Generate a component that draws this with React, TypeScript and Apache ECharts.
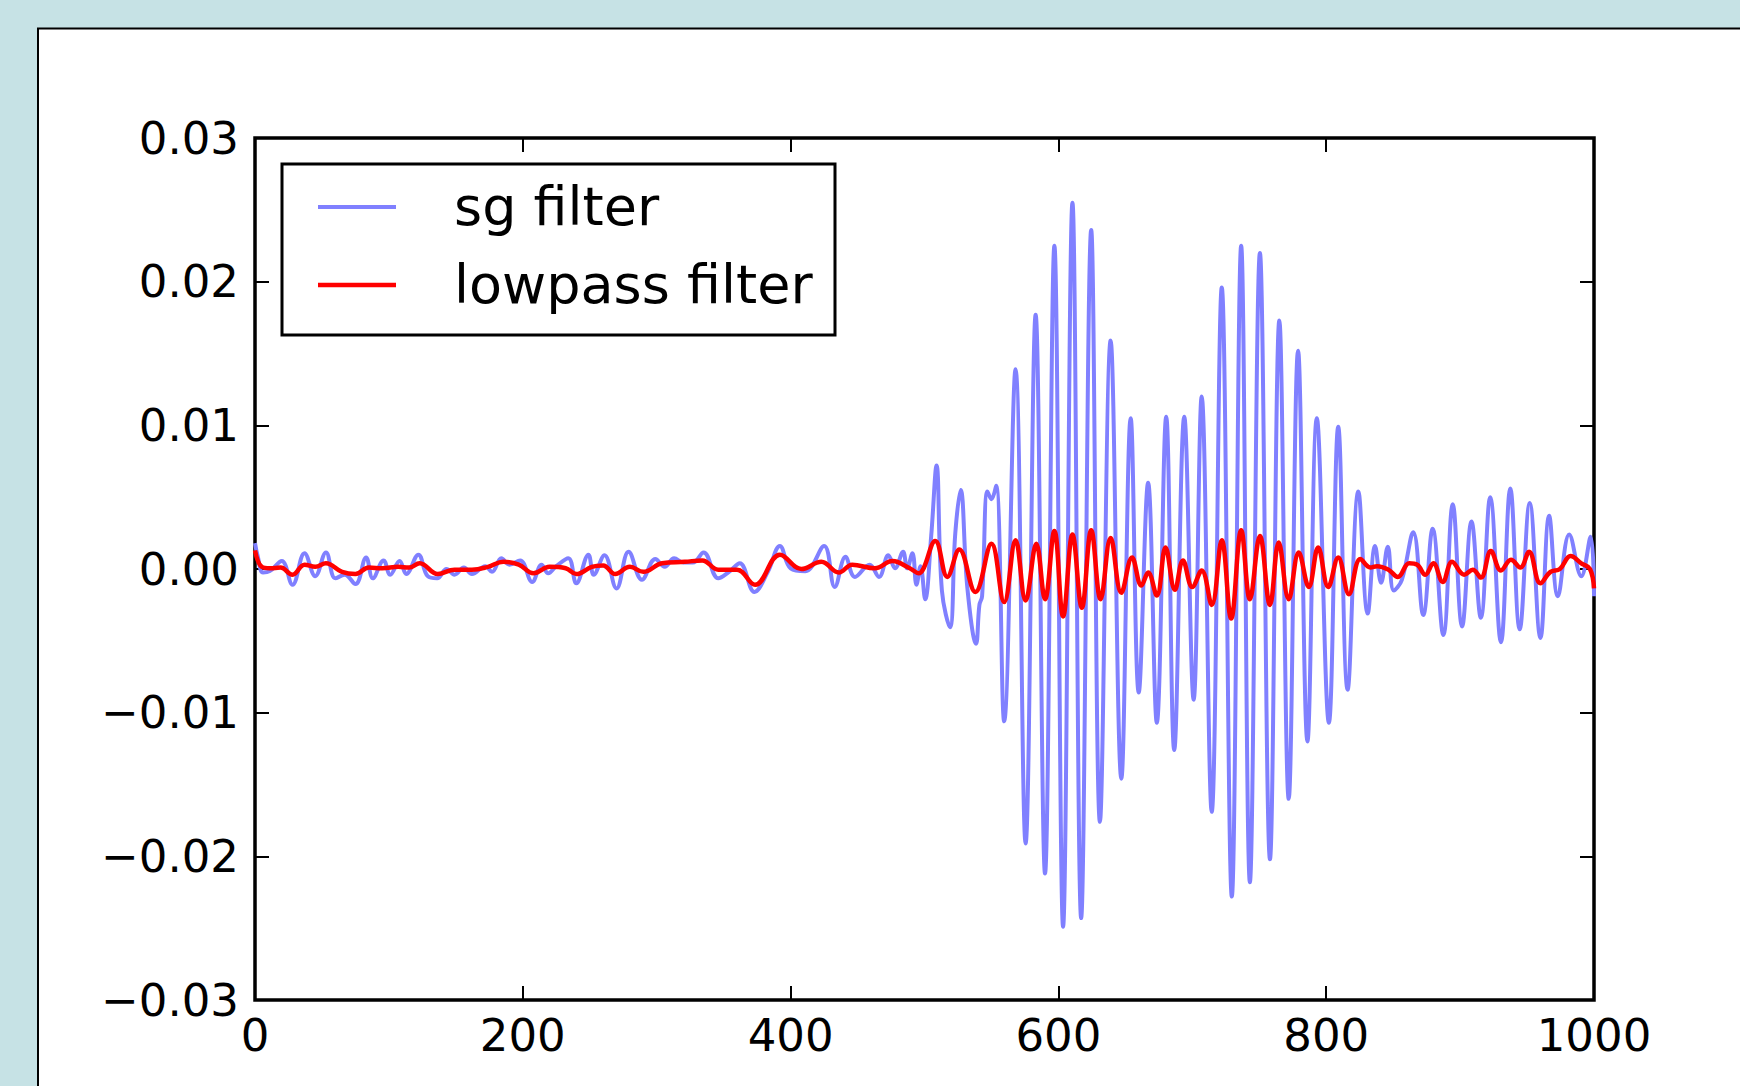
import React, { useEffect, useRef } from 'react';
import * as echarts from 'echarts';

// x positions / values of the "sg filter" trace
const sgX = [0, 2, 6, 11, 20, 28, 37, 45, 53, 60, 67, 75, 83, 88, 96, 101, 108, 113, 122, 129, 136, 143, 149, 156, 162, 172, 177, 184, 190, 198, 207, 214, 219, 225, 234, 240, 249, 253, 261, 270, 279, 289, 299, 306, 313, 320, 327, 335, 346, 354, 362, 373, 383, 392, 400, 411, 425, 433, 441, 448, 459, 466, 473, 478, 484, 487, 491, 494, 497, 500.5, 505, 509, 513, 519, 523, 527, 532, 538.5, 541, 543, 547, 550, 553.5, 559.5, 568, 575.5, 583, 590, 597, 603.5, 610.5, 617, 624.5, 631, 639, 647, 654, 660, 667, 673.5, 680.5, 686.5, 694, 701, 707, 714.5, 722, 729.5, 736.5, 743, 750.5, 758, 765, 772, 779, 786, 793, 802, 809, 816, 824, 831, 836.5, 841, 846, 850.5, 856.5, 865, 872.5, 879.5, 887.5, 894.5, 901.5, 908.5, 915.5, 922.5, 930.5, 937.5, 944.5, 952, 960, 966.5, 973, 981.5, 990.5, 997.5, 1000];
const sgY = [0.0018, 0.0009, -0.00025, -0.00015, 0.00055, -0.0011, 0.0011, -0.0005, 0.00115, -0.00065, -0.0004, -0.00105, 0.0008, -0.00065, 0.0006, -0.0004, 0.00055, -0.00035, 0.001, -0.0005, -0.00065, 0.0, -0.0004, 0.0001, -0.00035, 0.0002, -0.0002, 0.00075, 0.0003, 0.0006, -0.0009, 0.0003, -0.0003, 0.0002, 0.00075, -0.001, 0.001, -0.0004, 0.00095, -0.00135, 0.0012, -0.00075, 0.0007, 0.00015, 0.00075, 0.00045, 0.00045, 0.00115, -0.00065, -0.0002, 0.0004, -0.0016, -0.0002, 0.0016, 0.00005, -0.00015, 0.0016, -0.00125, 0.00085, -0.00055, 0.0003, -0.00055, 0.00095, 0.00005, 0.0012, 0.00005, 0.0011, -0.0011, 0.0002, -0.0021, 0.0023, 0.0072, -0.0015, -0.00405, 0.0025, 0.0055, -0.0013, -0.0052, -0.0025, -0.0019, 0.0054, 0.00485, 0.0058, -0.0106, 0.0139, -0.0191, 0.0177, -0.0212, 0.0225, -0.0249, 0.0255, -0.0243, 0.0236, -0.0176, 0.0159, -0.0146, 0.0105, -0.0086, 0.006, -0.0107, 0.0106, -0.0126, 0.0106, -0.0091, 0.012, -0.0169, 0.0196, -0.0228, 0.0225, -0.0218, 0.022, -0.0202, 0.0173, -0.016, 0.0152, -0.012, 0.0105, -0.0107, 0.0099, -0.0084, 0.0054, -0.0031, 0.0016, -0.00095, 0.00155, -0.0015, -0.00075, 0.00255, -0.0032, 0.0028, -0.0046, 0.0045, -0.004, 0.0033, -0.0034, 0.005, -0.0051, 0.0056, -0.0042, 0.0046, -0.0048, 0.0037, -0.0019, 0.0024, -0.0005, 0.00225, -0.0019];

// x positions / values of the "lowpass filter" trace
const lpX = [0, 5, 11, 19, 28, 37, 45, 53, 65, 75, 85, 95, 107, 115, 123, 136.5, 149, 162, 174, 185.5, 197, 208, 220, 232, 240, 251.5, 260, 269, 280, 290, 304, 321, 334, 346, 360, 373.5, 392, 408, 423, 436, 446, 463, 476, 489, 495.5, 508, 517, 526, 538, 550, 559.5, 568, 575.5, 583.5, 590, 597, 603.5, 610.5, 617.5, 624.5, 631.5, 639, 647, 655, 662, 667, 673.5, 680, 687, 693, 700, 707, 714.5, 722, 729, 736.5, 743, 750.5, 758, 764.5, 772, 779.5, 787, 794, 801.5, 809, 817, 825.5, 833, 838, 846.5, 853.5, 862, 868, 874, 880, 887, 894, 903, 909.5, 915.5, 923, 930.5, 938, 945, 951.5, 960, 967.5, 974.5, 982.5, 990.5, 997, 1000];
const lpY = [0.0013, 0.00015, 0.00005, 0.0001, -0.0004, 0.0003, 0.00015, 0.0004, -0.0002, -0.00035, 0.0001, 0.00005, 0.00015, 0.0001, 0.0004, -0.00035, -0.00005, -0.00005, 0.00015, 0.0005, 0.0003, -0.0003, 0.00015, 0.00005, -0.00035, 0.00015, 0.00025, -0.00035, 0.00015, -0.0002, 0.0004, 0.0005, 0.0006, -0.00005, -0.00005, -0.0011, 0.001, 0.0, 0.0005, -0.00025, 0.0003, 0.00005, 0.00055, 0.00005, -0.0003, 0.00195, -0.00055, 0.00135, -0.0016, 0.00175, -0.0023, 0.002, -0.0022, 0.00175, -0.0021, 0.00265, -0.0033, 0.0024, -0.0027, 0.0027, -0.0021, 0.00215, -0.00165, 0.0008, -0.00115, -0.00025, -0.00185, 0.0015, -0.00145, 0.0006, -0.00125, -0.0001, -0.0025, 0.002, -0.00345, 0.0027, -0.0021, 0.0023, -0.0025, 0.00185, -0.0021, 0.00115, -0.00125, 0.0015, -0.00125, 0.0008, -0.00175, 0.0007, 0.0001, 0.0002, -0.00005, -0.00055, 0.0004, 0.0003, -0.0004, 0.0004, -0.0009, 0.0005, -0.0004, -0.00005, -0.0006, 0.00125, -0.0001, 0.00065, 0.0001, 0.0012, -0.001, -0.0002, 0.0, 0.0009, 0.0004, 0.0, -0.00135];

const seriesNames = ['sg filter', 'lowpass filter'];
const seriesColors = ['#8080ff', '#ff0000'];
const xTickValues = [0, 200, 400, 600, 800, 1000];
const xTickLabels = ['0', '200', '400', '600', '800', '1000'];
const yTickValues = [-0.03, -0.02, -0.01, 0, 0.01, 0.02, 0.03];
const yTickLabels = ['\u22120.03', '\u22120.02', '\u22120.01', '0.00', '0.01', '0.02', '0.03'];

const FONT = 'DejaVu Sans';

function nearestLabel(values: number[], labels: string[], v: number): string {
  let best = 0;
  for (let i = 1; i < values.length; i++) {
    if (Math.abs(values[i] - v) < Math.abs(values[best] - v)) best = i;
  }
  return labels[best];
}

export default function App() {
  const ref = useRef<HTMLDivElement>(null);
  useEffect(() => {
    if (!ref.current) return;
    const chart = echarts.init(ref.current, null, { renderer: 'svg', width: 1740, height: 1086 });
    const tick = { inside: true, length: 14, lineStyle: { color: '#000', width: 2 } };
    const noLine = { show: false, onZero: false };
    const option: any = {
      animation: false,
      backgroundColor: '#c6e2e5',
      grid: { left: 255, top: 138, width: 1339, height: 862, show: true, borderColor: '#000', borderWidth: 3.5, backgroundColor: 'transparent' },
      xAxis: [
        {
          type: 'value', min: xTickValues[0], max: xTickValues[xTickValues.length - 1], interval: 200, position: 'bottom',
          axisLine: noLine, splitLine: { show: false }, axisTick: tick,
          axisLabel: {
            fontSize: 45, color: '#000', fontFamily: FONT, margin: 13, showMinLabel: true, showMaxLabel: true,
            formatter: (v: number) => nearestLabel(xTickValues, xTickLabels, v),
          },
        },
        {
          type: 'value', min: 0, max: 1000, interval: 200, position: 'top',
          axisLine: noLine, splitLine: { show: false }, axisTick: tick, axisLabel: { show: false },
        },
      ],
      yAxis: [
        {
          type: 'value', min: yTickValues[0], max: yTickValues[yTickValues.length - 1], interval: 0.01, position: 'left',
          axisLine: noLine, splitLine: { show: false }, axisTick: tick,
          axisLabel: {
            fontSize: 45, color: '#000', fontFamily: FONT, margin: 16, padding: [0, 0, 10, 0], showMinLabel: true, showMaxLabel: true,
            formatter: (v: number) => nearestLabel(yTickValues, yTickLabels, v),
          },
        },
        {
          type: 'value', min: -0.03, max: 0.03, interval: 0.01, position: 'right',
          axisLine: noLine, splitLine: { show: false }, axisTick: tick, axisLabel: { show: false },
        },
      ],
      graphic: {
        elements: [
          { type: 'rect', z: -10, shape: { x: 38, y: 28.5, width: 1800, height: 1200 }, style: { fill: '#ffffff', stroke: '#000', lineWidth: 2 } },
          { type: 'rect', z: 100, shape: { x: 282, y: 164, width: 553, height: 171 }, style: { fill: '#ffffff', stroke: '#000', lineWidth: 3 } },
          { type: 'line', z: 101, shape: { x1: 318, y1: 207, x2: 396, y2: 207 }, style: { stroke: seriesColors[0], lineWidth: 4 } },
          { type: 'line', z: 101, shape: { x1: 318, y1: 285, x2: 396, y2: 285 }, style: { stroke: seriesColors[1], lineWidth: 4.5 } },
          { type: 'text', z: 101, x: 454, y: 206, style: { text: seriesNames[0], fontSize: 54, fontFamily: FONT, fill: '#000', align: 'left', verticalAlign: 'middle' } },
          { type: 'text', z: 101, x: 454, y: 284, style: { text: seriesNames[1], fontSize: 54, fontFamily: FONT, fill: '#000', align: 'left', verticalAlign: 'middle' } },
        ],
      },
      series: [
        {
          type: 'line', name: seriesNames[0], xAxisIndex: 0, yAxisIndex: 0, z: 2,
          data: sgX.map((x, i) => [x, sgY[i]]), showSymbol: false, symbol: 'none', smooth: 0.4,
          lineStyle: { color: seriesColors[0], width: 4 }, itemStyle: { color: seriesColors[0] },
        },
        {
          type: 'line', name: seriesNames[1], xAxisIndex: 0, yAxisIndex: 0, z: 3,
          data: lpX.map((x, i) => [x, lpY[i]]), showSymbol: false, symbol: 'none', smooth: 0.4,
          lineStyle: { color: seriesColors[1], width: 4.5 }, itemStyle: { color: seriesColors[1] },
        },
      ],
    };
    chart.setOption(option);
    return () => chart.dispose();
  }, []);
  return <div ref={ref} style={{ position: 'fixed', left: 0, top: 0, width: 1740, height: 1086 }} />;
}
